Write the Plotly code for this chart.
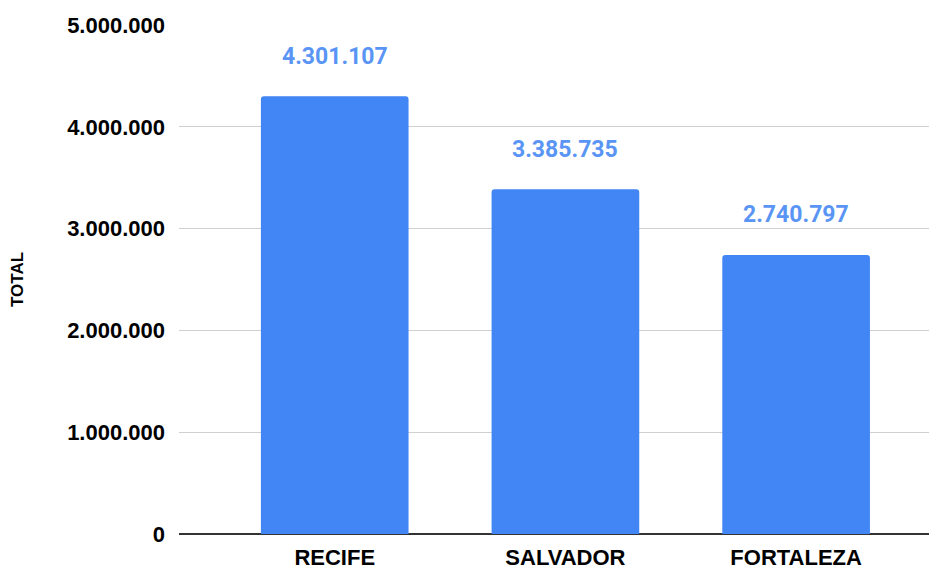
import plotly.graph_objects as go

cities = ["RECIFE", "SALVADOR", "FORTALEZA"]
totals = [4301107, 3385735, 2740797]
y_ticks = [0, 1000000, 2000000, 3000000, 4000000, 5000000]

def fmt(v):
    return f"{v:,}".replace(",", ".")

FONT = "Liberation Sans, Arial, sans-serif"

fig = go.Figure()
fig.add_trace(go.Bar(
    x=cities, y=totals, marker=dict(color="#4285F4", line=dict(width=0)),
    width=0.64, hoverinfo="skip",
))
for c, v in zip(cities, totals):
    fig.add_annotation(x=c, y=v, text="<b>" + fmt(v) + "</b>", showarrow=False,
                       yshift=40, font=dict(family="Roboto", size=23, color="#5a95f5"))

# page body has an 8px margin, so the figure is sized/offset to compensate
fig.update_layout(
    width=929, height=561,
    margin=dict(l=171, r=2, t=17, b=35, pad=0),
    paper_bgcolor="white", plot_bgcolor="white",
    separators=",.",
    barcornerradius=3,
    showlegend=False,
    font=dict(family=FONT, color="#000000"),
    xaxis=dict(range=[-0.675, 2.602], showgrid=False, showline=False, ticks="",
               tickfont=dict(size=22, family=FONT), ticklabelstandoff=8, automargin=False,
               tickprefix="<b>", ticksuffix="</b>", fixedrange=True),
    yaxis=dict(range=[0, 5000000], tickvals=y_ticks, ticktext=["<b>" + fmt(t) + "</b>" for t in y_ticks],
               showgrid=True, gridcolor="#d0d0d0", gridwidth=1, zeroline=True,
               zerolinecolor="#333333", zerolinewidth=1.5, ticks="", ticklabelstandoff=13,
               tickfont=dict(size=22, family=FONT), automargin=False,
               title=dict(text="<b>TOTAL</b>", font=dict(size=17, family=FONT), standoff=39),
               fixedrange=True),
)
fig.write_html("out.html")
